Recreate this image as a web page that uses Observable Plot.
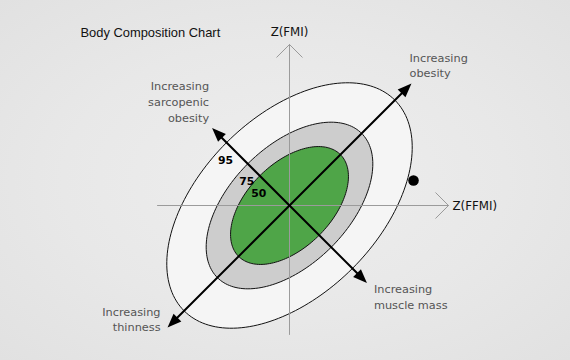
<!DOCTYPE html>
<html>
<head>
<meta charset="utf-8">
<script src="https://cdn.jsdelivr.net/npm/d3@7"></script>
<script src="https://cdn.jsdelivr.net/npm/@observablehq/plot@0.6"></script>
<style>
  html, body { margin: 0; padding: 0; }
  body {
    width: 570px; height: 360px; overflow: hidden;
    background: radial-gradient(ellipse at 50% 50%, #eeeeee 0%, #e8e8e8 55%, #e1e1e1 100%);
  }
</style>
</head>
<body>
<div id="chart"></div>
<script>
// ---- data (z-score units) ----
const title = "Body Composition Chart";
const levels = [95, 75, 50];              // percentile ellipses
const semiMajor = [2.98, 2.04, 1.44];     // along the 45° axis
const semiMinor = [1.78, 1.18, 0.84];
const tiltDeg = 45;

const axisNames = ["Z(FFMI)", "Z(FMI)"];
const axisMin = [-2.64, -2.58];
const axisMax = [3.18, 3.22];

const dirLabels = ["Increasing\nobesity", "Increasing\nthinness", "Increasing\nsarcopenic\nobesity", "Increasing\nmuscle mass"];
const dirAngle = [45, 225, 135, 315];
const dirLength = [3.45, 3.45, 2.19, 2.19];

const subjectX = [2.48];
const subjectY = [0.5];

// ---- styles ----
const ringFill = ["#f5f5f5", "#cdcdcd", "#4fa548"];
const dirStyle = [
  {textAnchor: "start", dx: -2, dy: -19},
  {textAnchor: "end", dx: -7, dy: -9},
  {textAnchor: "end", dx: -3, dy: -27},
  {textAnchor: "start", dx: 7, dy: 13}
];

// ---- derived geometry ----
const rad = Math.PI / 180;
const phi = tiltDeg * rad;
const rings = levels.map((lv, i) => d3.range(0, 360, 2).map(t => {
  const a = semiMajor[i], b = semiMinor[i], tt = t * rad;
  return {
    level: lv,
    x: a * Math.cos(tt) * Math.cos(phi) - b * Math.sin(tt) * Math.sin(phi),
    y: a * Math.cos(tt) * Math.sin(phi) + b * Math.sin(tt) * Math.cos(phi)
  };
}));
const axes = axisNames.map((name, i) => ({
  name,
  x1: i === 0 ? axisMin[i] : 0, y1: i === 0 ? 0 : axisMin[i],
  x2: i === 0 ? axisMax[i] : 0, y2: i === 0 ? 0 : axisMax[i]
}));
const dirs = dirLabels.map((label, i) => ({
  label, angle: dirAngle[i],
  x: dirLength[i] * Math.cos(dirAngle[i] * rad),
  y: dirLength[i] * Math.sin(dirAngle[i] * rad)
}));
const levelLabels = levels.map((lv, i) => ({
  label: String(lv),
  x: semiMinor[i] * Math.cos(phi + Math.PI / 2),
  y: semiMinor[i] * Math.sin(phi + Math.PI / 2)
}));
const subject = subjectX.map((x, i) => ({x, y: subjectY[i]}));

// arrowhead symbol: tip at the origin, pointing up
const headSymbol = {
  draw(context) {
    context.moveTo(0, 0);
    context.lineTo(5.5, 14);
    context.lineTo(-5.5, 14);
    context.closePath();
  }
};

const labelFont = "DejaVu Sans, Verdana, sans-serif";

const chart = Plot.plot({
  width: 570,
  height: 360,
  margin: 0,
  x: {domain: [-289 / 50, 281 / 50], axis: null},
  y: {domain: [-155 / 50, 205 / 50], axis: null},
  style: {background: "transparent", overflow: "visible"},
  marks: [
    ...rings.map((pts, i) => Plot.line(pts, {
      x: "x", y: "y", curve: "linear-closed",
      fill: ringFill[i], stroke: "#111", strokeWidth: 1
    })),
    Plot.arrow(axes, {
      x1: "x1", y1: "y1", x2: "x2", y2: "y2",
      stroke: "#9b9b9b", strokeWidth: 1, headLength: 27, headAngle: 90
    }),
    Plot.arrow(dirs, {
      x1: () => 0, y1: () => 0, x2: "x", y2: "y",
      stroke: "#000", strokeWidth: 2, headLength: 0, insetEnd: 8
    }),
    Plot.dot(dirs, {
      x: "x", y: "y", symbol: headSymbol, r: 5,
      fill: "#000", stroke: "none", rotate: d => 90 - d.angle
    }),
    Plot.dot(subject, {x: "x", y: "y", r: 5.3, fill: "#000"}),
    Plot.text(levelLabels, {
      x: "x", y: "y", text: "label", dx: -1, dy: 18,
      fontFamily: labelFont, fontWeight: "bold", fontSize: 10.8, fill: "#000"
    }),
    ...dirs.map((d, i) => Plot.text([d], {
      x: "x", y: "y", text: "label",
      textAnchor: dirStyle[i].textAnchor, dx: dirStyle[i].dx, dy: dirStyle[i].dy,
      lineAnchor: "middle", lineHeight: 1.4,
      fontFamily: labelFont, fontSize: 11.3, fill: "#555"
    })),
    Plot.text([axes[0]], {
      x: "x2", y: "y2", text: "name", textAnchor: "start", dx: 4, dy: 1,
      fontFamily: labelFont, fontSize: 11.8, fill: "#111"
    }),
    Plot.text([axes[1]], {
      x: "x2", y: "y2", text: "name", textAnchor: "middle", dy: -12,
      fontFamily: labelFont, fontSize: 11.8, fill: "#111"
    }),
    Plot.text([title], {
      frameAnchor: "top-left", dx: 80, dy: 32, lineAnchor: "middle",
      textAnchor: "start", fontFamily: "Liberation Sans, Arial, sans-serif",
      fontSize: 12.9, fill: "#111"
    })
  ]
});
document.getElementById("chart").appendChild(chart);
</script>
</body>
</html>
